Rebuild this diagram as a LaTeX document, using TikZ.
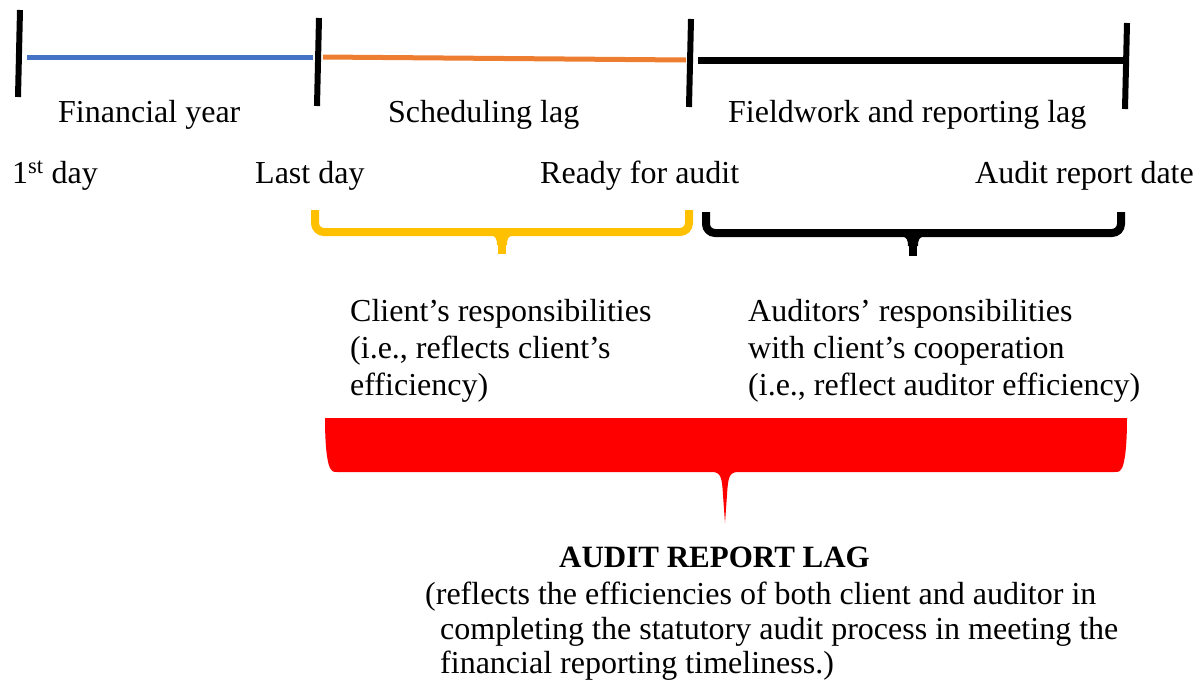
\documentclass[tikz,border=0pt]{standalone}
\usepackage{fontspec}
\setmainfont{Liberation Serif}
\definecolor{fyblue}{HTML}{4472C4}
\definecolor{lagorange}{HTML}{ED7D31}
\definecolor{braceyellow}{HTML}{FFC000}
\definecolor{lagred}{HTML}{FF0000}
\begin{document}
\begin{tikzpicture}[x=1pt,y=-1pt,
  lbl/.style={inner sep=0pt, anchor=base west, font=\fontsize{32}{37}\selectfont},
  boldlbl/.style={lbl, font=\fontsize{31}{37}\selectfont\bfseries},
  tickmark/.style={line width=6pt, black},
  seg/.style={line width=5pt},
  bracepath/.style={line width=8pt, rounded corners=9pt},
  stub/.style={line width=8pt}]
\useasboundingbox (0,0) rectangle (1200,681);

% tick marks
\coordinate (t1a) at (20,10);   \coordinate (t1b) at (18,97);
\coordinate (t2a) at (319,18);  \coordinate (t2b) at (317,106);
\coordinate (t3a) at (691,19);  \coordinate (t3b) at (689,107);
\coordinate (t4a) at (1127,23); \coordinate (t4b) at (1125,109);
\draw[tickmark] (t1a) -- (t1b);
\draw[tickmark] (t2a) -- (t2b);
\draw[tickmark] (t3a) -- (t3b);
\draw[tickmark] (t4a) -- (t4b);

% timeline segments
\coordinate (b1) at (27,57);   \coordinate (b2) at (313,57);
\coordinate (o1) at (323,57);  \coordinate (o2) at (686,60);
\coordinate (k1) at (698,60);  \coordinate (k2) at (1126,60);
\draw[seg, fyblue] (b1) -- (b2);
\draw[seg, lagorange] (o1) -- (o2);
\draw[line width=7pt, black] (k1) -- (k2);

% labels
\node[lbl] (fy)  at (58,122)  {Financial year};
\node[lbl] (sl)  at (388,122) {Scheduling lag};
\node[lbl] (fr)  at (728,122) {Fieldwork and reporting lag};
\node[lbl] (d1)  at (12,183)  {1\textsuperscript{st} day};
\node[lbl] (dl)  at (255,183) {Last day};
\node[lbl] (ra)  at (540,183) {Ready for audit};
\node[lbl] (ard) at (975,183) {Audit report date};

% yellow brace
\coordinate (ya) at (315,210); \coordinate (yb) at (315,232);
\coordinate (yc) at (689,232); \coordinate (yd) at (689,210);
\coordinate (ym) at (502,232); \coordinate (yt) at (502,254);
\draw[bracepath, braceyellow] (ya) -- (yb) -- (yc) -- (yd);
\draw[stub, braceyellow] (ym) -- (yt);
\fill[braceyellow] (490,235) .. controls (496,236) and (497,239) .. (497,245)
  -- (507,245) .. controls (507,239) and (508,236) .. (514,235) -- cycle;

% black brace
\coordinate (ka) at (706,212); \coordinate (kb) at (706,233);
\coordinate (kc) at (1121,233); \coordinate (kd) at (1121,212);
\coordinate (km) at (913,233); \coordinate (kt) at (913,256);
\draw[bracepath, black] (ka) -- (kb) -- (kc) -- (kd);
\draw[stub, black] (km) -- (kt);
\fill[black] (901,236) .. controls (907,237) and (908,240) .. (908,246)
  -- (918,246) .. controls (918,240) and (919,237) .. (925,236) -- cycle;

% responsibility texts
\node[lbl] (c1) at (350,321) {Client’s responsibilities};
\node[lbl] (c2) at (350,358) {(i.e., reflects client’s};
\node[lbl] (c3) at (350,395) {efficiency)};
\node[lbl] (a1) at (748,321) {Auditors’ responsibilities};
\node[lbl] (a2) at (748,358) {with client’s cooperation};
\node[lbl] (a3) at (748,395) {(i.e., reflect auditor efficiency)};

% red brace shape
\fill[lagred] (325,418) -- (1127,418)
  .. controls (1127,445) and (1125,462) .. (1122,468)
  .. controls (1121,471) and (1119,472) .. (1115,472)
  -- (738,472)
  .. controls (729,472) and (728,478) .. (727,495)
  -- (725,523) -- (723,495)
  .. controls (722,478) and (721,472) .. (712,472)
  -- (337,472)
  .. controls (333,472) and (331,471) .. (330,468)
  .. controls (327,462) and (325,445) .. (325,418) -- cycle;

% bottom texts
\node[boldlbl] (arl) at (559,567) {AUDIT REPORT LAG};
\node[lbl] (p1) at (425,604) {(reflects the efficiencies of both client and auditor in};
\node[lbl] (p2) at (440,639) {completing the statutory audit process in meeting the};
\node[lbl] (p3) at (440,673) {financial reporting timeliness.)};
\end{tikzpicture}
\end{document}
